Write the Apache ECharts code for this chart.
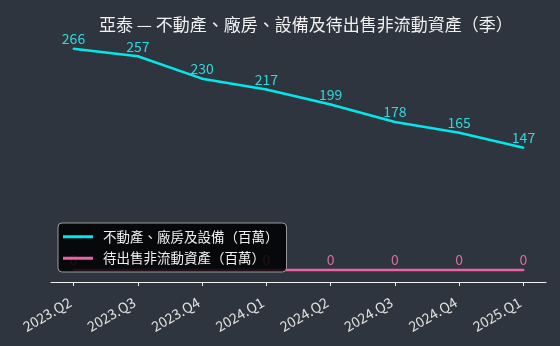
<!DOCTYPE html>
<html>
<head>
<meta charset="utf-8">
<script src="https://cdn.jsdelivr.net/npm/echarts@6/dist/echarts.min.js"></script>
<style>
  html, body { margin: 0; padding: 0; background: #2f353e; }
  #chart { width: 560px; height: 346px; }
</style>
</head>
<body>
<div id="chart"></div>
<script>
  var quarters = ['2023.Q2', '2023.Q3', '2023.Q4', '2024.Q1', '2024.Q2', '2024.Q3', '2024.Q4', '2025.Q1'];
  var ppe = [266, 257, 230, 217, 199, 178, 165, 147];
  var heldForSale = [0, 0, 0, 0, 0, 0, 0, 0];
  var tickValues = [0, 1, 2, 3, 4, 5, 6, 7];

  function pairs(values) {
    return values.map(function (v, i) { return [i, v]; });
  }

  var font = "Noto Sans CJK TC";
  var myChart = echarts.init(document.getElementById('chart'));
  myChart.setOption({
    backgroundColor: '#2f353e',
    textStyle: { fontFamily: font },
    title: {
      text: '亞泰 — 不動產、廠房、設備及待出售非流動資產（季）',
      left: 94,
      top: 11,
      textStyle: { color: '#f0f0f0', fontSize: 17, fontWeight: 'normal', fontFamily: font }
    },
    grid: { left: 51, right: 14, top: 40, bottom: 64 },
    xAxis: {
      type: 'value',
      min: -0.35,
      max: 7.35,
      splitLine: { show: false },
      axisLine: { onZero: false, lineStyle: { color: '#f0f0f0', width: 1 } },
      axisTick: { customValues: tickValues, length: 4, lineStyle: { color: '#f0f0f0' } },
      axisLabel: {
        customValues: tickValues,
        rotate: 30,
        margin: 17,
        padding: [0, 4, 0, 0],
        color: '#e0e0e0',
        fontSize: 14,
        fontFamily: font,
        formatter: function (v) { return quarters[Math.round(v)]; }
      }
    },
    yAxis: {
      type: 'value',
      min: -14.4,
      max: 276.5,
      show: false,
      splitLine: { show: false }
    },
    legend: {
      orient: 'vertical',
      left: 58,
      top: 223,
      padding: [7, 8, 7, 5],
      itemGap: 8,
      icon: 'rect',
      itemWidth: 30,
      itemHeight: 3,
      backgroundColor: 'rgba(0,0,0,0.85)',
      borderColor: '#9a9a9a',
      borderWidth: 1,
      borderRadius: 4,
      textStyle: { color: '#f0f0f0', fontSize: 13.5, fontFamily: font, padding: [0, 0, 0, 5] },
      data: ['不動產、廠房及設備（百萬）', '待出售非流動資產（百萬）']
    },
    series: [
      {
        name: '不動產、廠房及設備（百萬）',
        type: 'line',
        data: pairs(ppe),
        symbol: 'circle',
        symbolSize: 2,
        showSymbol: true,
        color: '#00e8ec',
        lineStyle: { width: 2.5 },
        label: { show: true, position: 'top', distance: 2, color: '#2fd8dc', fontSize: 14, fontFamily: font,
          formatter: function (p) { return p.value[1]; } }
      },
      {
        name: '待出售非流動資產（百萬）',
        type: 'line',
        data: pairs(heldForSale),
        symbol: 'circle',
        symbolSize: 2,
        showSymbol: true,
        color: '#ec62a8',
        lineStyle: { width: 2.5 },
        label: { show: true, position: 'top', distance: 2, color: '#d46d9f', fontSize: 14, fontFamily: font,
          formatter: function (p) { return p.value[1]; } }
      }
    ]
  });
</script>
</body>
</html>
